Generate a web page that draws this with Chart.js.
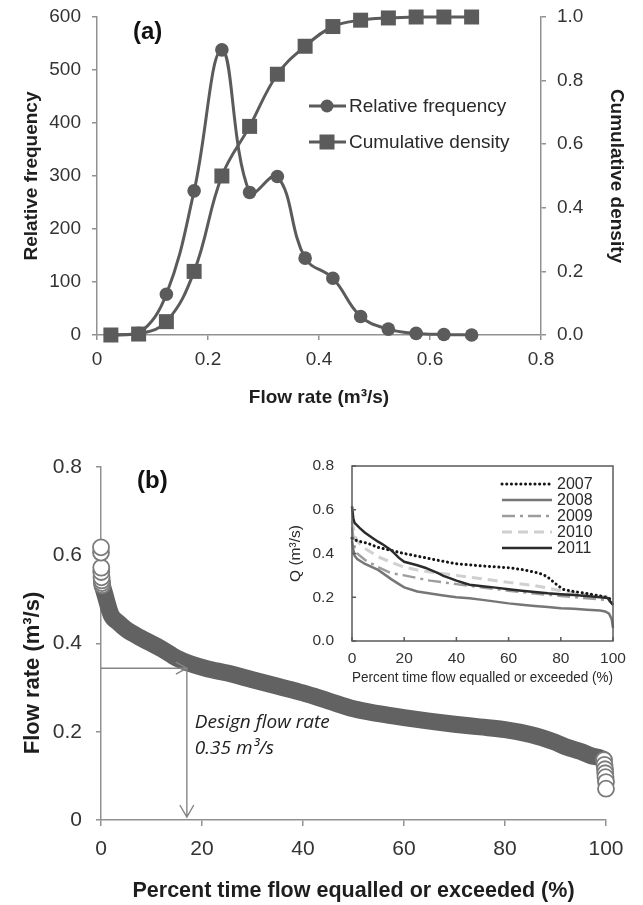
<!DOCTYPE html>
<html lang="en">
<head>
<meta charset="UTF-8">
<title>Flow rate distribution and flow duration curve</title>
<script src="https://cdn.jsdelivr.net/npm/chart.js"></script>
<style>
  body { margin: 0; background: #fff; }
  #wrap { position: relative; width: 643px; height: 905px; }
  canvas { position: absolute; }
  #chartA { left: 0; top: 0; }
  #chartB { left: 0; top: 440px; }
  #inset { left: 280px; top: 455px; }
</style>
</head>
<body>
<div id="wrap">
  <canvas id="chartA" width="643" height="420"></canvas>
  <canvas id="chartB" width="643" height="465"></canvas>
  <canvas id="inset" width="363" height="240"></canvas>
</div>
<script>
// ---- (a) frequency of flow rate ----
const flowBins = [0.025, 0.075, 0.125, 0.175, 0.225, 0.275, 0.325, 0.375, 0.425, 0.475, 0.525, 0.575, 0.625, 0.675];
const relFrequency = [0, 3, 77, 272, 538, 269, 299, 145, 107, 35, 11, 3, 1, 0];
const cumDensity = [0, 0.003, 0.042, 0.2, 0.5, 0.656, 0.82, 0.908, 0.97, 0.99, 0.997, 1, 1, 1];

// ---- (b) flow duration curve ----
const fdcPercent = [0.3, 0.8, 2, 3.5, 5, 8, 12, 15, 18, 21, 25, 30, 35, 40, 45, 50, 55, 60, 65, 70, 75, 80, 85, 88, 90, 92, 95, 97, 99, 99.6];
const fdcFlow = [0.53, 0.51, 0.465, 0.447, 0.432, 0.412, 0.388, 0.367, 0.353, 0.343, 0.333, 0.318, 0.303, 0.288, 0.27, 0.252, 0.241, 0.232, 0.224, 0.217, 0.211, 0.205, 0.194, 0.184, 0.176, 0.166, 0.155, 0.146, 0.14, 0.137];
const peakPercent = [0.25, 0.2, 0.15, 0.1, 0.05, 0.05, 0, 0];
const peakFlow = [0.532, 0.537, 0.543, 0.55, 0.562, 0.572, 0.606, 0.618];
const lowPercent = [99.6, 99.7, 99.8, 99.85, 99.9, 100, 100];
const lowFlow = [0.136, 0.125, 0.115, 0.106, 0.097, 0.086, 0.071];
const designPercent = 17;
const designFlow = 0.344;

// ---- inset: yearly curves ----
const pct2007 = [0, 2, 6, 10, 15, 20, 25, 30, 35, 40, 45, 50, 55, 60, 65, 70, 73, 75, 77, 79, 81, 85, 90, 95, 98, 100];
const q2007 = [0.47, 0.458, 0.447, 0.428, 0.414, 0.4, 0.388, 0.376, 0.364, 0.353, 0.348, 0.343, 0.339, 0.335, 0.327, 0.315, 0.305, 0.292, 0.272, 0.252, 0.236, 0.226, 0.217, 0.206, 0.199, 0.183];
const pct2008 = [0, 0.5, 1, 2, 5, 10, 13, 15, 18, 20, 25, 30, 35, 40, 45, 50, 55, 60, 65, 70, 75, 80, 85, 90, 95, 97, 98.5, 99.5, 100];
const q2008 = [0.46, 0.42, 0.39, 0.375, 0.352, 0.325, 0.3, 0.283, 0.26, 0.245, 0.226, 0.217, 0.208, 0.2, 0.195, 0.188, 0.18, 0.172, 0.166, 0.16, 0.155, 0.15, 0.147, 0.143, 0.139, 0.135, 0.125, 0.1, 0.06];
const pct2009 = [0, 1, 2, 5, 10, 15, 20, 25, 30, 40, 50, 60, 70, 80, 90, 98, 100];
const q2009 = [0.52, 0.43, 0.4, 0.37, 0.338, 0.31, 0.3, 0.288, 0.276, 0.26, 0.245, 0.23, 0.217, 0.206, 0.195, 0.187, 0.17];
const pct2010 = [0, 1, 2, 5, 10, 15, 20, 25, 30, 40, 50, 60, 70, 75, 80, 85, 90, 95, 100];
const q2010 = [0.55, 0.49, 0.455, 0.423, 0.385, 0.36, 0.338, 0.325, 0.315, 0.3, 0.284, 0.268, 0.253, 0.242, 0.23, 0.22, 0.211, 0.205, 0.198];
const pct2011 = [0, 0.5, 1, 3, 5, 8, 10, 12, 15, 18, 20, 25, 28, 30, 33, 35, 38, 40, 45, 50, 55, 60, 65, 70, 75, 80, 85, 90, 95, 98, 100];
const q2011 = [0.615, 0.56, 0.54, 0.516, 0.495, 0.47, 0.454, 0.44, 0.415, 0.38, 0.362, 0.346, 0.335, 0.325, 0.31, 0.298, 0.285, 0.276, 0.257, 0.25, 0.244, 0.237, 0.23, 0.224, 0.218, 0.214, 0.21, 0.206, 0.2, 0.196, 0.165];

const toPoints = (xs, ys) => xs.map((x, i) => ({ x: x, y: ys[i] }));

const sans = "'Liberation Sans', Arial, sans-serif";
Chart.defaults.font.family = sans;
Chart.defaults.color = '#333';
Chart.defaults.animation = false;
Chart.defaults.plugins.legend.display = false;
Chart.defaults.plugins.tooltip.enabled = false;

const axisGray = '#919191';
const seriesGray = '#5b5b5b';
const titleColor = '#1e1e1e';

// ---------------- panel (a) ----------------
const legendA = {
  id: 'legendA',
  afterDraw(chart) {
    const ctx = chart.ctx;
    ctx.save();
    ctx.fillStyle = seriesGray;
    ctx.strokeStyle = seriesGray;
    ctx.lineWidth = 3;
    [['Relative frequency', 106, 'circle'], ['Cumulative density', 142, 'rect']].forEach(([label, yy, style]) => {
      ctx.beginPath();
      ctx.moveTo(309, yy); ctx.lineTo(346, yy);
      ctx.stroke();
      ctx.beginPath();
      if (style === 'circle') ctx.arc(327, yy, 6.5, 0, Math.PI * 2);
      else ctx.rect(319.5, yy - 7.5, 15, 15);
      ctx.fill();
    });
    ctx.fillStyle = '#2a2a2a';
    ctx.font = '19px ' + sans;
    ctx.textBaseline = 'middle';
    ctx.fillText('Relative frequency', 349, 107);
    ctx.fillText('Cumulative density', 349, 143);
    ctx.font = 'bold 24px ' + sans;
    ctx.fillStyle = '#111';
    ctx.fillText('(a)', 133, 32);
    ctx.restore();
  }
};

new Chart(document.getElementById('chartA'), {
  type: 'line',
  data: {
    datasets: [
      {
        label: 'Cumulative density',
        data: toPoints(flowBins, cumDensity),
        yAxisID: 'y1',
        borderColor: seriesGray, backgroundColor: seriesGray,
        borderWidth: 3, tension: 0.4, clip: false,
        pointStyle: 'rect', pointRadius: 10.6, pointBorderWidth: 0
      },
      {
        label: 'Relative frequency',
        data: toPoints(flowBins, relFrequency),
        yAxisID: 'y',
        borderColor: seriesGray, backgroundColor: seriesGray,
        borderWidth: 3, tension: 0.4, clip: false,
        pointStyle: 'circle', pointRadius: 6.8, pointBorderWidth: 0
      }
    ]
  },
  options: {
    responsive: false,
    layout: { padding: { top: 17, left: 0, right: 0, bottom: 0 } },
    scales: {
      x: {
        type: 'linear', min: 0, max: 0.8,
        afterFit: s => { s.height = 85; },
        ticks: { stepSize: 0.2, padding: 8, font: { size: 19 } },
        grid: { drawOnChartArea: false, tickLength: 5, color: axisGray, lineWidth: 1.5 },
        border: { color: axisGray, width: 1.5 },
        title: { display: true, text: 'Flow rate (m³/s)', color: titleColor, font: { size: 19, weight: 'bold' }, padding: { top: 0, bottom: 11 } }
      },
      y: {
        position: 'left', min: 0, max: 600,
        afterFit: s => { s.width = 97; },
        ticks: { stepSize: 100, padding: 11, font: { size: 19, lineHeight: 0.5 } },
        grid: { drawOnChartArea: false, tickLength: 5, color: axisGray, lineWidth: 1.5 },
        border: { color: axisGray, width: 1.5 },
        title: { display: true, text: 'Relative frequency', color: titleColor, font: { size: 19, weight: 'bold' }, padding: { top: 20, bottom: 0 } }
      },
      y1: {
        position: 'right', min: 0, max: 1,
        afterFit: s => { s.width = 102; },
        ticks: { stepSize: 0.2, padding: 11, font: { size: 19, lineHeight: 0.5 }, callback: v => v.toFixed(1) },
        grid: { drawOnChartArea: false, tickLength: 5, color: axisGray, lineWidth: 1.5 },
        border: { color: axisGray, width: 1.5 },
        title: { display: true, text: 'Cumulative density', color: titleColor, font: { size: 19, weight: 'bold' }, padding: { top: 15, bottom: 0 } }
      }
    }
  },
  plugins: [legendA]
});

// ---------------- panel (b) ----------------
const designArrows = {
  id: 'designArrows',
  afterDatasetsDraw(chart) {
    const { ctx, scales: { x, y } } = chart;
    const px = x.getPixelForValue(designPercent);
    const py = y.getPixelForValue(designFlow);
    const x0 = x.getPixelForValue(0);
    const y0 = y.getPixelForValue(0);
    ctx.save();
    ctx.strokeStyle = '#858585';
    ctx.lineWidth = 1.4;
    ctx.beginPath();
    ctx.moveTo(x0, py); ctx.lineTo(px, py);
    ctx.moveTo(px - 11, py - 6); ctx.lineTo(px, py); ctx.lineTo(px - 11, py + 6);
    ctx.moveTo(px, py); ctx.lineTo(px, y0 - 3);
    ctx.moveTo(px - 7, y0 - 15); ctx.lineTo(px, y0 - 3); ctx.lineTo(px + 7, y0 - 15);
    ctx.stroke();
    ctx.fillStyle = '#222';
    ctx.font = "italic 19px 'Open Sans', 'DejaVu Sans', sans-serif";
    ctx.textBaseline = 'middle';
    ctx.fillText('Design flow rate', px + 8, py + 54);
    ctx.fillText('0.35 m³/s', px + 8, py + 80);
    ctx.font = 'bold 24px ' + sans;
    ctx.fillStyle = '#111';
    ctx.fillText('(b)', 137, 41);
    // y-axis title, placed a little below the axis centre as in the original
    ctx.translate(33, 233);
    ctx.rotate(-Math.PI / 2);
    ctx.textAlign = 'center';
    ctx.fillStyle = titleColor;
    ctx.font = 'bold 22px ' + sans;
    ctx.fillText('Flow rate (m³/s)', 0, 0);
    ctx.restore();
  }
};

const ringStyle = {
  showLine: false, clip: false,
  pointRadius: 8, pointBackgroundColor: '#fff', pointBorderColor: '#7b7b7b', pointBorderWidth: 1.8
};

new Chart(document.getElementById('chartB'), {
  type: 'line',
  data: {
    datasets: [
      Object.assign({ label: 'peak flows', data: toPoints(peakPercent, peakFlow) }, ringStyle),
      Object.assign({ label: 'low flows', data: toPoints(lowPercent, lowFlow) }, ringStyle),
      {
        label: 'Flow duration',
        data: toPoints(fdcPercent, fdcFlow),
        borderColor: '#626262', borderWidth: 17,
        borderCapStyle: 'round', borderJoinStyle: 'round',
        cubicInterpolationMode: 'monotone', pointRadius: 0, clip: false
      }
    ]
  },
  options: {
    responsive: false,
    layout: { padding: { top: 27, left: 0, right: 37, bottom: 0 } },
    scales: {
      x: {
        type: 'linear', min: 0, max: 100,
        afterFit: s => { s.height = 85; },
        ticks: { stepSize: 20, padding: 11, font: { size: 21 } },
        grid: { drawOnChartArea: false, tickLength: 6, color: axisGray, lineWidth: 1.5 },
        border: { color: axisGray, width: 1.5 },
        title: { display: true, text: 'Percent time flow equalled or exceeded (%)', color: titleColor, font: { size: 21.5, weight: 'bold' }, padding: { top: 0, bottom: 1 } }
      },
      y: {
        min: 0, max: 0.8,
        afterFit: s => { s.width = 101; },
        ticks: { stepSize: 0.2, padding: 14, font: { size: 21, lineHeight: 0.5 } },
        grid: { drawOnChartArea: false, tickLength: 5, color: axisGray, lineWidth: 1.5 },
        border: { color: axisGray, width: 1.5 }
      }
    }
  },
  plugins: [designArrows]
});

// ---------------- inset ----------------
const insetFrame = {
  id: 'insetFrame',
  afterDatasetsDraw(chart) {
    const { ctx, chartArea: a, scales: { x, y } } = chart;
    ctx.save();
    ctx.strokeStyle = '#5a5a5a';
    ctx.lineWidth = 1.5;
    ctx.strokeRect(a.left, a.top, a.right - a.left, a.bottom - a.top);
    ctx.beginPath();
    x.ticks.forEach(t => { const p = x.getPixelForValue(t.value); ctx.moveTo(p, a.bottom); ctx.lineTo(p, a.bottom - 4); });
    y.ticks.forEach(t => { const p = y.getPixelForValue(t.value); ctx.moveTo(a.left, p); ctx.lineTo(a.left + 4, p); });
    ctx.stroke();
    // legend, drawn from the dataset styles
    ctx.font = '16px ' + sans;
    ctx.textBaseline = 'middle';
    chart.data.datasets.forEach((ds, i) => {
      const yy = 29 + i * 16;
      ctx.save();
      ctx.strokeStyle = ds.borderColor;
      ctx.lineWidth = ds.borderWidth;
      ctx.lineCap = ds.borderCapStyle || 'butt';
      ctx.setLineDash(ds.borderDash || []);
      ctx.beginPath();
      ctx.moveTo(222, yy); ctx.lineTo(272, yy);
      ctx.stroke();
      ctx.restore();
      ctx.fillStyle = '#2a2a2a';
      ctx.fillText(ds.label, 277, yy + 1);
    });
    ctx.restore();
  }
};

const hiddenTicks = { display: true, drawOnChartArea: false, drawTicks: true, color: 'rgba(0,0,0,0)' };

new Chart(document.getElementById('inset'), {
  type: 'line',
  data: {
    datasets: [
      { label: '2007', data: toPoints(pct2007, q2007), borderColor: '#151515', borderWidth: 3, borderDash: [0.1, 4.6], borderCapStyle: 'round', order: 1 },
      { label: '2008', data: toPoints(pct2008, q2008), borderColor: '#767676', borderWidth: 2.5, order: 2 },
      { label: '2009', data: toPoints(pct2009, q2009), borderColor: '#9d9d9d', borderWidth: 2.5, borderDash: [13, 5, 3, 5], order: 3 },
      { label: '2010', data: toPoints(pct2010, q2010), borderColor: '#d0d0d0', borderWidth: 3, borderDash: [10, 6], order: 4 },
      { label: '2011', data: toPoints(pct2011, q2011), borderColor: '#2b2b2b', borderWidth: 2.5, order: 0 }
    ].map(ds => Object.assign(ds, { pointRadius: 0, tension: 0, clip: false }))
  },
  options: {
    responsive: false,
    layout: { padding: { top: 11, left: 0, right: 30, bottom: 0 } },
    scales: {
      x: {
        type: 'linear', min: 0, max: 100,
        afterFit: s => { s.height = 54; },
        ticks: { stepSize: 20, padding: 2, font: { size: 15.5 } },
        grid: Object.assign({ tickLength: 6 }, hiddenTicks),
        border: { display: false },
        title: { display: true, text: 'Percent time flow equalled or exceeded (%)', color: '#2a2a2a', font: { size: 15.5 }, padding: { top: 0, bottom: 8 } }
      },
      y: {
        min: 0, max: 0.8,
        afterFit: s => { s.width = 72; },
        ticks: { stepSize: 0.2, padding: 2, font: { size: 15.5, lineHeight: 0.5 }, callback: v => v.toFixed(1) },
        grid: Object.assign({ tickLength: 16 }, hiddenTicks),
        border: { display: false },
        title: { display: true, text: 'Q (m³/s)', color: '#2a2a2a', font: { size: 15.5 }, padding: { top: 6, bottom: 0 } }
      }
    }
  },
  plugins: [insetFrame]
});
</script>
</body>
</html>
